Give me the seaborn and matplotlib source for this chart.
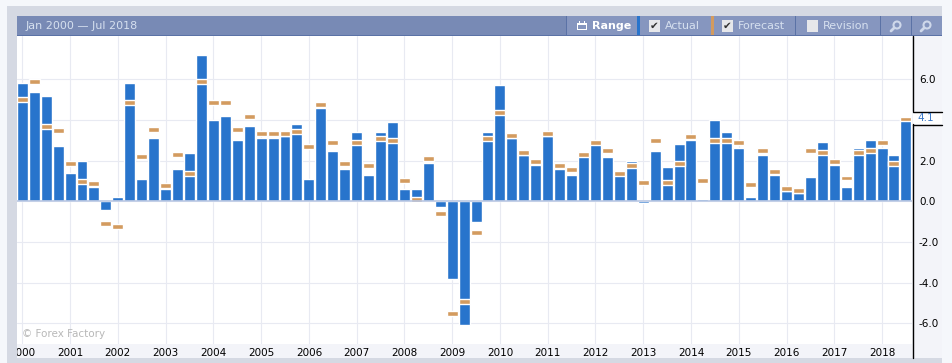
import matplotlib
matplotlib.use('Agg')
import matplotlib.pyplot as plt
import seaborn as sns
import numpy as np
from matplotlib.patches import Rectangle, Circle
from matplotlib.transforms import Bbox

W, H = 952, 363

quarters = [f'{y}Q{q}' for y in range(2000, 2019) for q in range(1, 5)][:75]
actual = [5.8, 5.4, 5.2, 2.7, 1.4, 2.0, 0.7, -0.4, 0.2, 5.8, 1.1, 3.1, 0.6, 1.6, 2.4, 7.2,
          4.0, 4.2, 3.0, 3.7, 3.1, 3.1, 3.2, 3.8, 1.1, 4.6, 2.5, 1.6, 3.4, 1.3, 3.4, 3.9,
          0.6, 0.6, 1.9, -0.3, -3.8, -6.1, -1.0, 3.4, 5.7, 3.1, 2.3, 1.8, 3.2, 1.6, 1.3, 2.5,
          2.8, 2.2, 1.5, 2.0, -0.1, 2.5, 1.7, 2.8, 3.0, 0.1, 4.0, 3.4, 2.6, 0.2, 2.3, 1.3,
          0.5, 0.4, 1.2, 2.9, 1.8, 0.7, 2.6, 3.0, 2.6, 2.3, 4.1]
forecast = [5.0, 5.9, 3.7, 3.5, 1.85, 1.0, 0.9, -1.1, -1.25, 4.85, 2.2, 3.55, 0.8, 2.3, 1.35, 5.9,
            4.85, 4.85, 3.55, 4.15, 3.35, 3.35, 3.35, 3.45, 2.7, 4.75, 2.9, 1.85, 2.9, 1.75, 3.1, 3.0,
            1.05, 0.1, 2.1, -0.6, -5.5, -4.9, -1.55, 3.1, 4.35, 3.25, 2.4, 1.95, 3.35, 1.75, 1.55, 2.3,
            2.9, 2.5, 1.35, 1.75, 0.95, 3.0, 0.95, 1.85, 3.2, 1.05, 3.0, 3.0, 2.9, 0.85, 2.5, 1.45,
            0.65, 0.55, 2.5, 2.4, 1.95, 1.15, 2.4, 2.5, 2.9, 1.85, 4.05]
years = [str(y) for y in range(2000, 2019)]
y_ticks = [-6, -4, -2, 0, 2, 4, 6]
y_labels = ['-6.0', '-4.0', '-2.0', '0.0', '2.0', '', '6.0']

blue = '#2874cc'
orange = '#d39b5f'
panel = '#f3f4f9'
band = '#d5d9e3'
header = '#788ab5'
button = '#8696bf'
divider = '#5b72a6'
grid = '#e8eaf2'
header_text = '#d6e0ef'

sns.set_theme(style='white')
plt.rcParams['font.family'] = ['DejaVu Sans']

fig = plt.figure(figsize=(W / 100, H / 100), dpi=100, facecolor='#f5f7fb')

# page furniture, in pixel coordinates
bg = fig.add_axes([0, 0, 1, 1], zorder=-1)
bg.set_xlim(0, W)
bg.set_ylim(H, 0)
bg.axis('off')


def box(x0, y0, x1, y1, color, **kw):
    bg.add_patch(Rectangle((x0, y0), x1 - x0, y1 - y0, facecolor=color, edgecolor='none', **kw))


box(7, 6, 942, H, band)
box(17, 16, 942, 36, header)
box(17, 35, 942, 36, divider)
box(566, 16, 942, 35, button)
box(637, 16, 640, 35, blue)
box(711, 16, 714, 35, orange)
for x in [566, 795, 880, 911]:
    box(x, 16, x + 1, 35, divider)
box(912, 36, 942, 358, panel)
box(17, 344, 912, 358, panel)

bg.text(26, 26, 'Jan 2000 — Jul 2018', color=header_text, fontsize=8, va='center')
bg.text(592, 26, 'Range', color='white', fontsize=8, va='center', fontweight='bold')
bg.text(665, 26, 'Actual', color=header_text, fontsize=8, va='center')
bg.text(738, 26, 'Forecast', color=header_text, fontsize=8, va='center')
bg.text(823, 26, 'Revision', color=header_text, fontsize=8, va='center')

# calendar icon
box(577, 23, 587, 30, 'white')
box(578, 25, 586, 29, button)
box(579, 21, 580, 24, 'white')
box(584, 21, 585, 24, 'white')

for x, checked in [(649, True), (722, True), (807, False)]:
    box(x, 20, x + 11, 32, '#e6e7ea')
    if checked:
        bg.text(x + 5.5, 26, '✔', color='#333333', fontsize=7.5, ha='center', va='center')

# zoom icons
for x, sign in [(897, True), (927, False)]:
    bg.add_patch(Circle((x, 25), 3.5, facecolor='none', edgecolor='#cfd8ea', lw=1.5))
    bg.plot([x - 3, x - 6], [28, 31], color='#cfd8ea', lw=2)

# right hand axis line and the box round the last value
bg.plot([912.5, 912.5], [36, 111], color='black', lw=1)
bg.plot([912.5, 912.5], [124, 358], color='black', lw=1)
bg.plot([912.5, 942], [111.5, 111.5], color='black', lw=1)
bg.plot([912.5, 942], [124.5, 124.5], color='black', lw=1)
box(913, 112, 942, 124, 'white')

ax = fig.add_axes([17 / W, 1 - 344 / H, 895 / W, 308 / H])

sns.barplot(x=quarters, y=actual, color=blue, saturation=1, width=0.92, ax=ax, zorder=2)
mark = 0.245
sns.barplot(x=quarters, y=[mark] * len(forecast), bottom=np.array(forecast) - mark / 2,
            color=orange, saturation=1, width=0.92, ax=ax, zorder=3)

ax.set_xlim(-0.444, 74.51)
ax.set_ylim(-7.01, 8.13)
ax.set_xticks(range(0, 4 * len(years), 4))
ax.set_xticklabels(years)
ax.yaxis.tick_right()
ax.set_yticks(y_ticks)
ax.set_yticklabels(y_labels)
ax.set_xlabel('')
ax.set_ylabel('')
ax.grid(True, color=grid, lw=0.8, zorder=0)
ax.set_axisbelow(True)
ax.axhline(0, color='#b9c7e3', lw=1.2, zorder=4)
ax.tick_params(axis='both', length=0, labelsize=7.5, labelcolor='black')
ax.tick_params(axis='x', pad=3)
ax.tick_params(axis='y', pad=5)
for s in ax.spines.values():
    s.set_visible(False)

# the 2000 label is cut off by the left edge of the plot
for lab in ax.get_xticklabels():
    lab.set_clip_box(Bbox([[17, 0], [912, H]]))
    lab.set_clip_on(True)

ax.text(1 + 5 / 895, actual[-1], '4.1', transform=ax.get_yaxis_transform(), color='#3b78c8',
        fontsize=7.5, va='center', clip_on=False)
ax.text(5 / 895, 10 / 308, '© Forex Factory', transform=ax.transAxes, color='#b8b8b8',
        fontsize=7.5, va='center')

fig.savefig('out.png', dpi=100, facecolor=fig.get_facecolor())
